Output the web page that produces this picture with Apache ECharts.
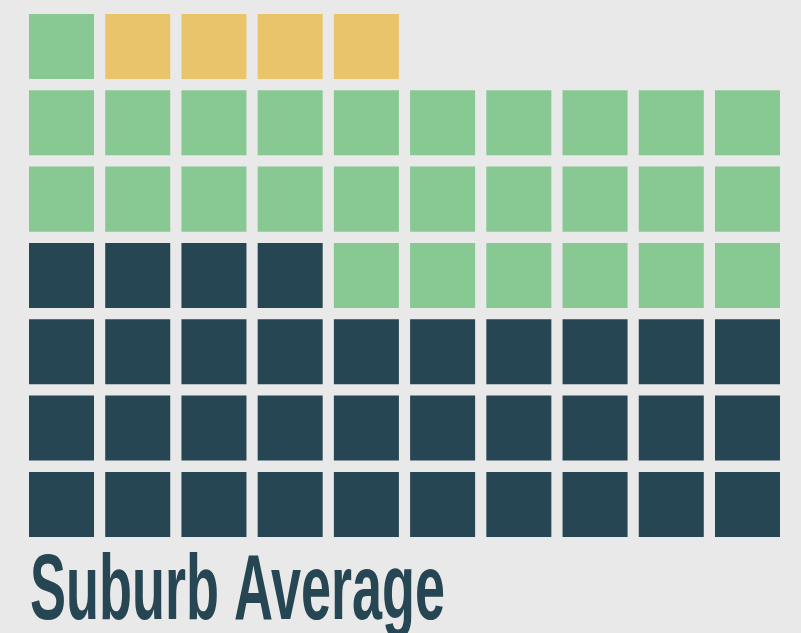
<!DOCTYPE html>
<html>
<head>
<meta charset="utf-8">
<script src="https://cdn.jsdelivr.net/npm/echarts@6/dist/echarts.min.js"></script>
<style>
  html, body { margin: 0; padding: 0; background: #e9e9e9; }
  #chart { width: 801px; height: 633px; }
</style>
</head>
<body>
<div id="chart"></div>
<script>
// waffle groups, filled from bottom-left, left to right, row by row
var groups = ['Group A', 'Group B', 'Group C'];
var counts = [34, 27, 4];
var colors = ['#264653', '#87c893', '#e9c46a'];
var columns = 10;
var rows = 7;
var titleText = 'Suburb Average';

var cells = [];
var idx = 0;
groups.forEach(function (g, gi) {
    for (var k = 0; k < counts[gi]; k++) {
        cells.push([idx % columns, Math.floor(idx / columns), gi]);
        idx++;
    }
});

// squeeze title to the condensed width of the reference
var titleFont = 'bold 92px "Liberation Sans Narrow", "Liberation Sans", sans-serif';
var ctx = document.createElement('canvas').getContext('2d');
ctx.font = titleFont;
var titleW = ctx.measureText(titleText).width;
var sx = 415 / titleW;

var chart = echarts.init(document.getElementById('chart'));
chart.setOption({
    backgroundColor: '#e9e9e9',
    animation: false,
    grid: { left: 23.4, top: 8.3, width: 762.2, height: 534.3 },
    xAxis: { type: 'value', min: -0.5, max: columns - 0.5, show: false },
    yAxis: { type: 'value', min: -0.5, max: rows - 0.5, show: false },
    graphic: [{
        type: 'text',
        left: 30,
        top: 548,
        scaleX: sx,
        originX: 0,
        style: {
            text: titleText,
            font: titleFont,
            fill: '#264653'
        }
    }],
    series: [{
        type: 'custom',
        data: cells,
        renderItem: function (params, api) {
            var c = api.coord([api.value(0), api.value(1)]);
            var s = api.size([1, 1]);
            var w = s[0] * 0.853, h = s[1] * 0.852;
            return {
                type: 'rect',
                shape: { x: c[0] - w / 2, y: c[1] - h / 2, width: w, height: h },
                style: { fill: colors[api.value(2)] }
            };
        }
    }]
});
</script>
</body>
</html>
